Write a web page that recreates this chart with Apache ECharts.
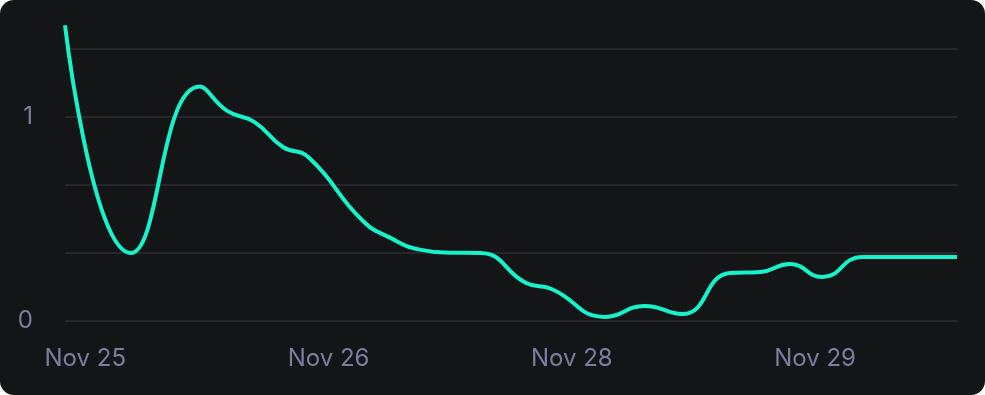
<!DOCTYPE html>
<html>
<head>
<meta charset="utf-8">
<script src="https://cdn.jsdelivr.net/npm/echarts@6/dist/echarts.min.js"></script>
<style>
  html, body { margin: 0; padding: 0; background: #ffffff; }
  #wrap { width: 985px; height: 395px; background: #141517; border-radius: 14px; overflow: hidden; }
  #chart { width: 985px; height: 395px; }
</style>
</head>
<body>
<div id="wrap"><div id="chart"></div></div>
<script>
// hours since start of series (Nov 24, 22:00)
const hours = [0, 6.5, 13.3, 16, 18.7, 21.5, 24, 29.3, 32, 35, 38, 41, 45.5, 48, 53.3, 57.2, 60.9, 65.6, 68.6, 71.5, 74.7, 78.7, 88];
const values = [1.45, 0.333, 1.149, 1.03, 0.975, 0.853, 0.804, 0.495, 0.41, 0.35, 0.335, 0.333, 0.186, 0.157, 0.02, 0.074, 0.034, 0.235, 0.24, 0.279, 0.216, 0.314, 0.314];
const xTickHours = [2, 26, 50, 74];
const xTickLabels = ['Nov 25', 'Nov 26', 'Nov 28', 'Nov 29'];
const yTickLabels = [0, 1];

const seriesData = hours.map((h, i) => [h, values[i]]);

const chart = echarts.init(document.getElementById('chart'), null, { renderer: 'canvas' });
chart.setOption({
  backgroundColor: 'transparent',
  animation: false,
  grid: { left: 65, right: 28, top: 49, bottom: 74, containLabel: false },
  xAxis: {
    type: 'value',
    min: 0,
    max: 88,
    axisLine: { show: false },
    axisTick: { show: false },
    splitLine: { show: false },
    axisLabel: {
      customValues: xTickHours,
      formatter: function (v) {
        const i = xTickHours.indexOf(v);
        return i >= 0 ? xTickLabels[i] : '';
      },
      color: '#7b7e9f',
      fontFamily: 'Inter',
      fontSize: 24,
      margin: 26
    }
  },
  yAxis: {
    type: 'value',
    min: 0,
    max: 4 / 3,
    interval: 1 / 3,
    axisLine: { show: false },
    axisTick: { show: false },
    splitLine: { lineStyle: { color: '#25262e', width: 2 } },
    axisLabel: {
      color: '#7b7e9f',
      fontFamily: 'Inter',
      fontSize: 24,
      margin: 32,
      formatter: function (v) {
        for (const t of yTickLabels) { if (Math.abs(v - t) < 1e-6) return String(t); }
        return '';
      }
    }
  },
  series: [{
    type: 'line',
    data: seriesData,
    smooth: 0.5,
    clip: false,
    symbol: 'none',
    lineStyle: { color: '#17f2cb', width: 4 }
  }]
});
</script>
</body>
</html>
